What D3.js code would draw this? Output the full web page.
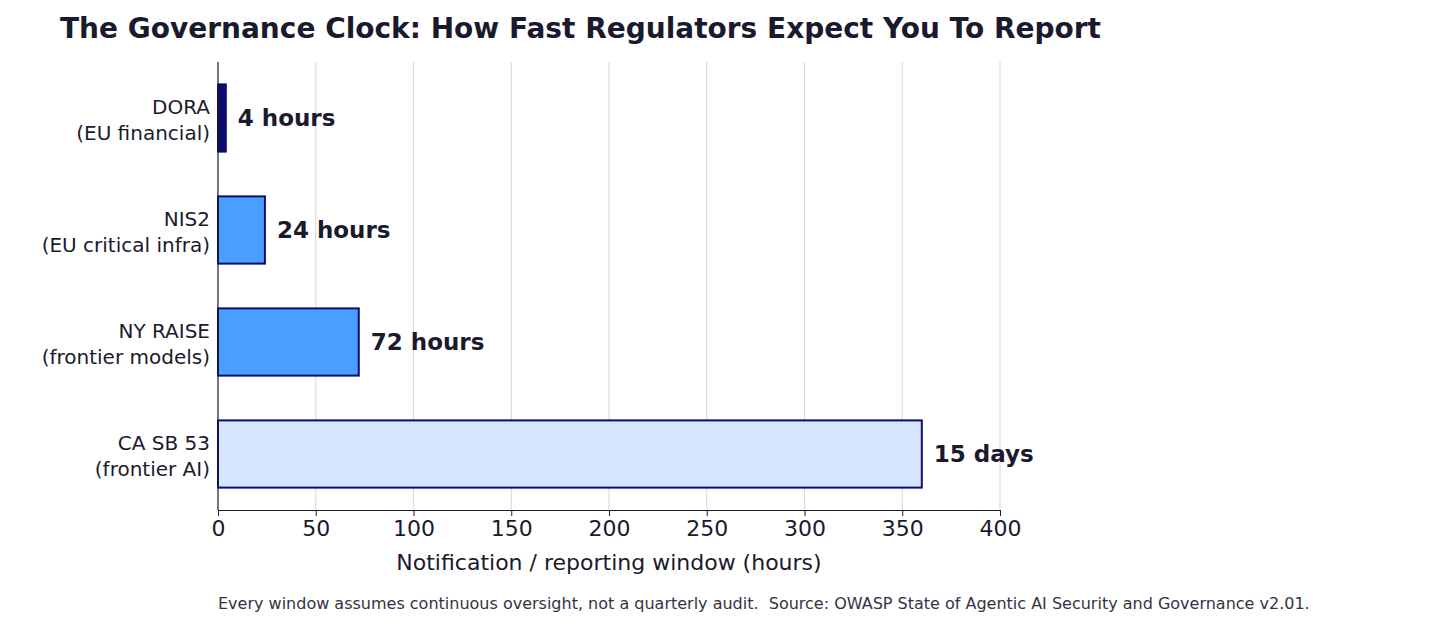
<!DOCTYPE html>
<html><head><meta charset="utf-8">
<script src="https://cdn.jsdelivr.net/npm/d3@7"></script>
<style>body{margin:0;background:#fff;font-family:"DejaVu Sans",sans-serif;}</style>
</head><body><div id="chart"></div>
<script>
const regimes = ["DORA\n(EU financial)", "NIS2\n(EU critical infra)", "NY RAISE\n(frontier models)", "CA SB 53\n(frontier AI)"];
const hours = [4, 24, 72, 360];
const labels = ["4 hours", "24 hours", "72 hours", "15 days"];
const fills = ["#0b0b6e", "#4a9eff", "#4a9eff", "#d6e6ff"];
const xTicks = [0, 50, 100, 150, 200, 250, 300, 350, 400];

const W = 1456, H = 628, m = { top: 62, left: 218, right: 456, bottom: 118 };
const ink = "#1a1a2e";
const svg = d3.select("#chart").append("svg").attr("width", W).attr("height", H);
const x = d3.scaleLinear().domain([0, 400]).range([m.left, W - m.right]);
const y = d3.scaleBand().domain(regimes).range([m.top, H - m.bottom]).paddingInner(0.4).paddingOuter(0.2);

svg.append("g").selectAll("line").data(xTicks.slice(1)).join("line")
  .attr("x1", d => x(d)).attr("x2", d => x(d)).attr("y1", m.top).attr("y2", H - m.bottom)
  .attr("stroke", "#dcdcdc").attr("stroke-width", 1.2);

svg.append("g").selectAll("rect").data(regimes).join("rect")
  .attr("x", x(0)).attr("y", d => y(d)).attr("height", y.bandwidth())
  .attr("width", (d, i) => x(hours[i]) - x(0))
  .attr("fill", (d, i) => fills[i]).attr("stroke", "#0d0d6b").attr("stroke-width", 2);

svg.append("g").selectAll("text").data(regimes).join("text")
  .attr("x", (d, i) => x(hours[i]) + 12).attr("y", d => y(d) + y.bandwidth() / 2)
  .attr("dy", "0.35em").attr("font-size", 23).attr("font-weight", "bold").attr("fill", ink)
  .text((d, i) => labels[i]);

const xAxis = svg.append("g").attr("transform", `translate(0,${H - m.bottom})`)
  .call(d3.axisBottom(x).tickValues(xTicks).tickSize(6).tickPadding(4));
xAxis.select(".domain").attr("stroke", ink);
xAxis.selectAll("text").attr("font-size", 22).attr("fill", ink).attr("font-family", "DejaVu Sans");
xAxis.selectAll("line").attr("stroke", ink);

svg.append("line").attr("x1", m.left).attr("x2", m.left).attr("y1", m.top).attr("y2", H - m.bottom)
  .attr("stroke", ink).attr("stroke-width", 1.2);

svg.append("g").selectAll("text").data(regimes).join("text")
  .attr("text-anchor", "end").attr("font-size", 20).attr("fill", ink)
  .attr("transform", d => `translate(${m.left - 8},${y(d) + y.bandwidth() / 2})`)
  .selectAll("tspan").data(d => d.split("\n")).join("tspan")
  .attr("x", 0).attr("y", (t, i) => (i === 0 ? -4 : 22)).text(t => t);

svg.append("text").attr("x", x(200)).attr("y", 570).attr("text-anchor", "middle")
  .attr("font-size", 22).attr("fill", ink).text("Notification / reporting window (hours)");

svg.append("text").attr("x", 60).attr("y", 38).attr("font-size", 28).attr("font-weight", "bold")
  .attr("fill", ink).text("The Governance Clock: How Fast Regulators Expect You To Report");

svg.append("text").attr("x", m.left).attr("y", 609).attr("font-size", 16).attr("fill", "#333344")
  .attr("xml:space", "preserve")
  .text("Every window assumes continuous oversight, not a quarterly audit.  Source: OWASP State of Agentic AI Security and Governance v2.01.");
</script></body></html>
